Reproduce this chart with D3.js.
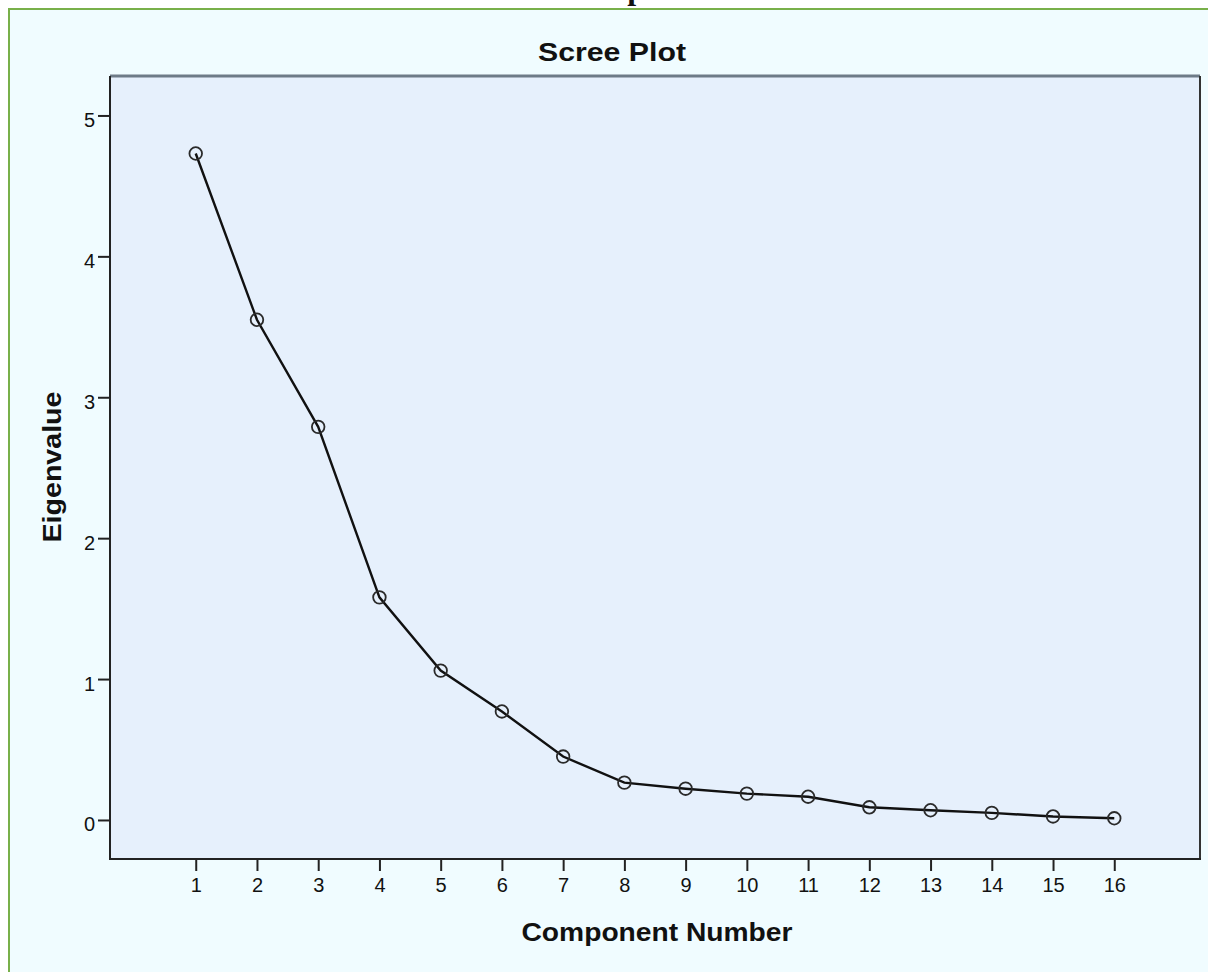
<!DOCTYPE html>
<html>
<head>
<meta charset="utf-8">
<script src="https://cdn.jsdelivr.net/npm/d3@7"></script>
<style>
  body { margin: 0; background: #fff; }
  svg { display: block; }
  text { font-family: "Liberation Sans", Arial, sans-serif; fill: #111; }
</style>
</head>
<body>
<div id="chart"></div>
<script>
// component numbers and their eigenvalues
const components = [1, 2, 3, 4, 5, 6, 7, 8, 9, 10, 11, 12, 13, 14, 15, 16];
const eigenvalues = [4.73, 3.55, 2.79, 1.58, 1.06, 0.77, 0.45, 0.265, 0.222, 0.187, 0.165, 0.09, 0.069, 0.05, 0.025, 0.012];
const yTicks = [0, 1, 2, 3, 4, 5];

const width = 1208, height = 972;
const plot = { left: 110, right: 1200, top: 76, bottom: 859 };

const svg = d3.select('#chart')
    .append('svg')
    .attr('width', width)
    .attr('height', height);

// page heading above the chart frame, only its descender shows
svg.append('text')
    .attr('x', 613)
    .attr('y', -1)
    .attr('text-anchor', 'middle')
    .style('font-family', '"Liberation Serif", "Times New Roman", serif')
    .style('font-weight', 'bold')
    .style('font-size', '32px')
    .text('Scree plot');

// outer frame (green border on top / left)
svg.append('rect')
    .attr('x', 9).attr('y', 9)
    .attr('width', width).attr('height', height)
    .attr('fill', '#f0fcff')
    .attr('stroke', '#78b04a')
    .attr('stroke-width', 2);

const x = d3.scaleLinear().domain([-0.4, 17.4]).range([plot.left, plot.right]);
const y = d3.scaleLinear().domain([-0.277, 5.28]).range([plot.bottom, plot.top]);

// plot background
svg.append('rect')
    .attr('x', plot.left).attr('y', plot.top)
    .attr('width', plot.right - plot.left)
    .attr('height', plot.bottom - plot.top)
    .attr('fill', '#e6f0fc');

// frame: grey top, dark right, black axes
svg.append('line')
    .attr('x1', plot.left).attr('x2', plot.right)
    .attr('y1', plot.top).attr('y2', plot.top)
    .attr('stroke', '#6e7b88').attr('stroke-width', 3);
svg.append('line')
    .attr('x1', plot.right).attr('x2', plot.right)
    .attr('y1', plot.top).attr('y2', plot.bottom)
    .attr('stroke', '#333').attr('stroke-width', 2);

// title
svg.append('text')
    .attr('x', 612)
    .attr('y', 61)
    .attr('text-anchor', 'middle')
    .attr('textLength', 148)
    .attr('lengthAdjust', 'spacingAndGlyphs')
    .style('font-weight', 'bold')
    .style('font-size', '26px')
    .text('Scree Plot');

// axes
const xAxis = svg.append('g')
    .attr('transform', `translate(0,${plot.bottom})`)
    .call(d3.axisBottom(x).tickValues(components).tickSize(12).tickPadding(7));
const yAxis = svg.append('g')
    .attr('transform', `translate(${plot.left},0)`)
    .call(d3.axisLeft(y).tickValues(yTicks).tickFormat(d3.format('d')).tickSize(12).tickPadding(3));

[xAxis, yAxis].forEach(g => {
    g.select('.domain').remove();
    g.selectAll('.tick line').attr('stroke', '#222').attr('stroke-width', 2);
    g.selectAll('.tick text')
        .style('font-family', '"Liberation Sans", Arial, sans-serif')
        .style('font-size', '20px')
        .attr('fill', '#111');
});
yAxis.selectAll('.tick text').attr('dy', '0.55em');

svg.append('line')
    .attr('x1', plot.left).attr('x2', plot.left)
    .attr('y1', plot.top).attr('y2', plot.bottom + 1)
    .attr('stroke', '#222').attr('stroke-width', 2);
svg.append('line')
    .attr('x1', plot.left).attr('x2', plot.right + 1)
    .attr('y1', plot.bottom).attr('y2', plot.bottom)
    .attr('stroke', '#222').attr('stroke-width', 2);

// axis titles
svg.append('text')
    .attr('x', 657)
    .attr('y', 941)
    .attr('text-anchor', 'middle')
    .attr('textLength', 271)
    .attr('lengthAdjust', 'spacingAndGlyphs')
    .style('font-weight', 'bold')
    .style('font-size', '26px')
    .text('Component Number');

svg.append('text')
    .attr('transform', 'translate(61,467) rotate(-90)')
    .attr('text-anchor', 'middle')
    .attr('textLength', 151)
    .attr('lengthAdjust', 'spacingAndGlyphs')
    .style('font-weight', 'bold')
    .style('font-size', '26px')
    .text('Eigenvalue');

// data line and markers
const data = components.map((c, i) => ({ c, v: eigenvalues[i] }));

svg.append('path')
    .datum(data)
    .attr('fill', 'none')
    .attr('stroke', '#111')
    .attr('stroke-width', 2.4)
    .attr('d', d3.line().x(d => x(d.c)).y(d => y(d.v)));

svg.append('g')
    .selectAll('circle')
    .data(data)
    .join('circle')
    .attr('cx', d => x(d.c))
    .attr('cy', d => y(d.v))
    .attr('r', 6.3)
    .attr('fill', 'none')
    .attr('stroke', '#2a2a2a')
    .attr('stroke-width', 1.8);
</script>
</body>
</html>
